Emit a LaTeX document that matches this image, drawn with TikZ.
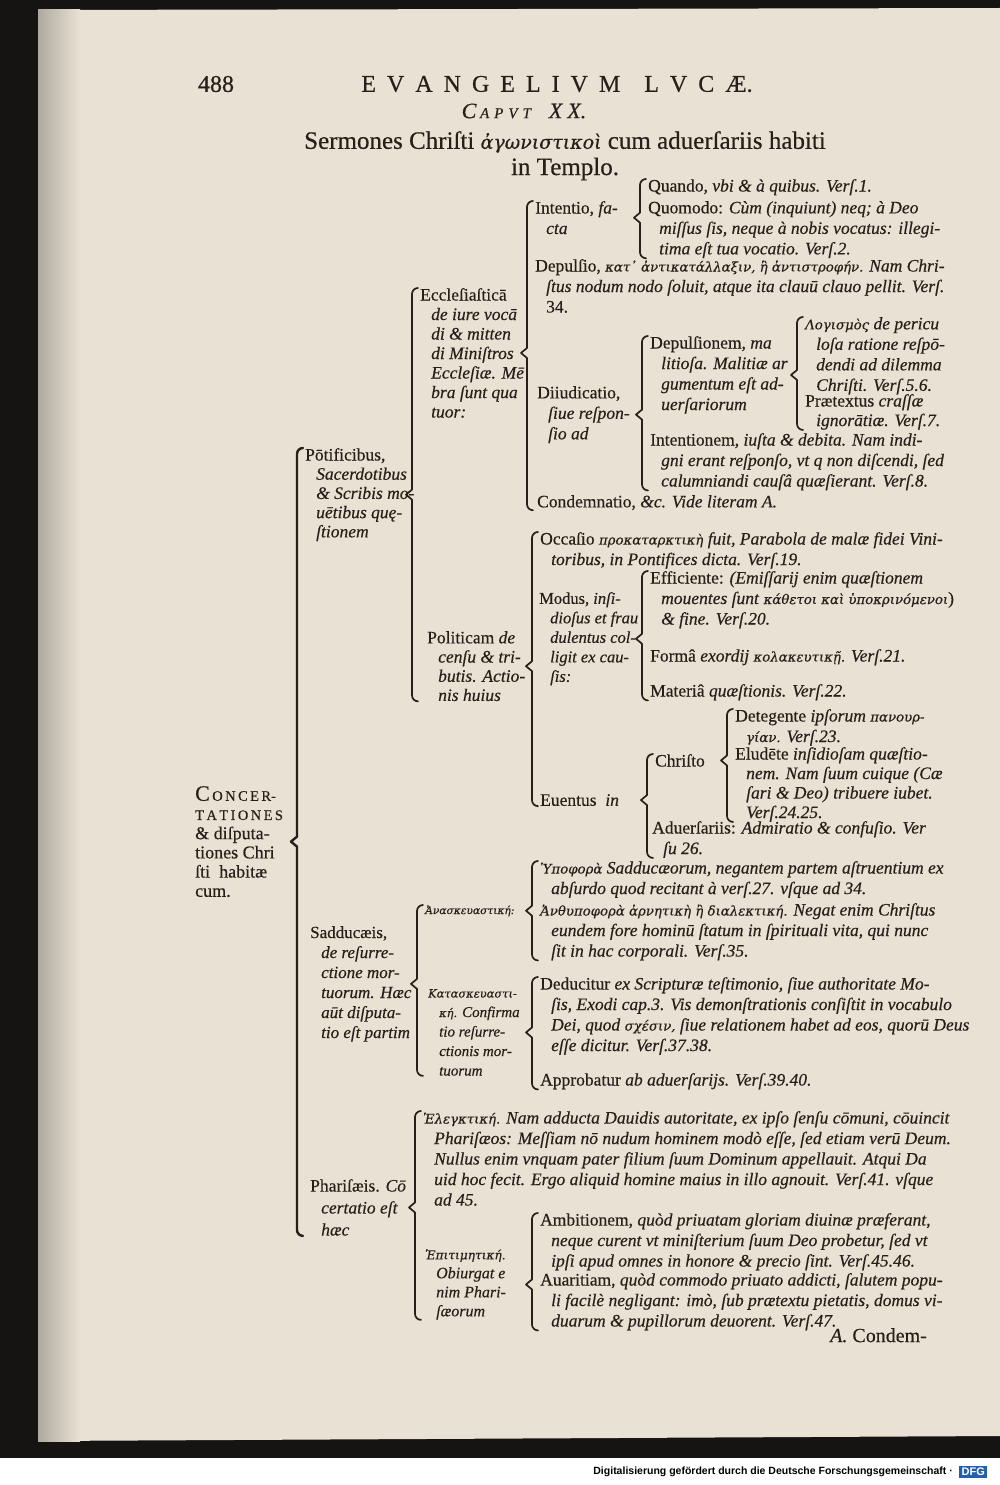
\documentclass[tikz,border=0pt]{standalone}
\usepackage{fontspec}
\setmainfont{Liberation Serif}[FakeBold=0.4]
\newfontfamily\greek[Scale=0.76,FakeBold=0.4]{DejaVu Serif}
\newfontfamily\footfont{Liberation Sans}
\usetikzlibrary{calc}
\definecolor{paper}{RGB}{233,226,212}
\definecolor{ink}{RGB}{40,31,26}
\definecolor{scanbed}{RGB}{22,20,19}
\definecolor{dfgblue}{RGB}{35,95,175}
\newcommand\fs{\fontsize{17.5}{20.5}\selectfont}
\newcommand\gr[1]{{\greek\itshape #1}}
\newcommand\ind{\hspace*{11pt}}
\newcommand\sm[1]{{\fontsize{14.5}{14.5}\selectfont #1}}
% brace from parent to its first and last child
\newcommand\drawbrace[4][]{%
  \draw[brk,#1] let \p1=(#3.north west), \p2=(#4.south west), \p3=(#2.east) in
    (\x1-2pt,\y1) to[out=180,in=90] (\x1-8pt,\y1-6pt)
    -- (\x1-8pt,\y3+5pt) -- (\x1-14pt,\y3) -- (\x1-8pt,\y3-5pt)
    -- (\x1-8pt,\y2+6pt) to[out=-90,in=180] (\x1-2pt,\y2);}
\tikzset{
  txt/.style={anchor=north west, align=left, inner sep=0pt, font=\fs, text=ink},
  head/.style={anchor=center, inner sep=0pt, text=ink},
  brk/.style={draw=ink, line width=1.7pt, line join=round, line cap=round}
}
\begin{document}
\begin{tikzpicture}[x=1pt, y=-1pt]
  \useasboundingbox (0,0) rectangle (1000,1485);
  % scan background
  \fill[white] (0,0) rectangle (1000,1485);
  \fill[scanbed] (0,0) rectangle (1000,1458);
  \fill[paper] (38,10) -- (1000,8) -- (1000,1436) -- (38,1441) -- cycle;
  \shade[left color=paper!75!black, right color=paper] (38,10) rectangle (80,1441);

  % heading
  \node[head, font=\fontsize{24}{24}\selectfont] (page) at (216,84) {488};
  \node[head, font=\fontsize{24}{24}\selectfont] (title) at (557,84)
    {E\hspace{11pt}V\hspace{11pt}A\hspace{11pt}N\hspace{11pt}G\hspace{11pt}E\hspace{11pt}L\hspace{11pt}I\hspace{11pt}V\hspace{11pt}M\hspace{24pt}L\hspace{11pt}V\hspace{11pt}C\hspace{11pt}Æ.};
  \node[head, font=\fontsize{22}{22}\selectfont\itshape] (caput) at (524,111)
    {C\,{\fontsize{15}{15}\selectfont A\hspace{5pt}P\hspace{5pt}V\hspace{5pt}T}\hspace{18pt}X\hspace{5pt}X.};
  \node[head, font=\fontsize{25}{25}\selectfont] (sermo) at (565,142)
    {Sermones Chriſti \gr{ἀγωνιστικοὶ} cum aduerſariis habiti};
  \node[head, font=\fontsize{25}{25}\selectfont] (templo) at (565,169) {in Templo.};

  % tree
  \node[txt, font=\fontsize{18}{19.2}\selectfont] (root) at (195,786)
    {{\fontsize{22}{19.2}\selectfont C}\sm{\,O\,N\,C\,E\,R-}\\\sm{T\,A\,T\,I\,O\,N\,E\,S}\\\& diſputa-\\tiones Chri\\ſti \ habitæ\\cum.};

  \node[txt, font=\fontsize{17.5}{19.2}\selectfont] (pontif) at (305,448)
    {Pōtificibus,\\\ind\textit{Sacerdotibus}\\\ind\textit{\& Scribis mo-}\\\ind\textit{uētibus quę-}\\\ind\textit{ſtionem}};
  \node[txt, font=\fontsize{17.5}{19.5}\selectfont] (eccl) at (420,288)
    {Eccleſiaſticā\\\ind\textit{de iure vocā}\\\ind\textit{di \& mitten}\\\ind\textit{di Miniſtros}\\\ind\textit{Eccleſiæ. Mē}\\\ind\textit{bra ſunt qua}\\\ind\textit{tuor:}};
  \node[txt] (intentio) at (535,201) {Intentio, \textit{fa-}\\\ind\textit{cta}};
  \node[txt] (quando) at (648,179) {Quando, \textit{vbi \& à quibus. Verſ.1.}};
  \node[txt] (quomodo) at (648,201)
    {Quomodo: \textit{Cùm (inquiunt) neq; à Deo}\\\ind\textit{miſſus ſis, neque à nobis vocatus: illegi-}\\\ind\textit{tima eſt tua vocatio. Verſ.2.}};
  \node[txt] (depulsio) at (535,259)
    {Depulſio, \gr{κατ᾽ ἀντικατάλλαξιν, ἢ ἀντιστροφήν.} \textit{Nam Chri-}\\\ind\textit{ſtus nodum nodo ſoluit, atque ita clauū clauo pellit. Verſ.}\\\ind 34.};
  \node[txt] (diiud) at (537,386) {Diiudicatio,\\\ind\textit{ſiue reſpon-}\\\ind\textit{ſio ad}};
  \node[txt] (depnem) at (650,336)
    {Depulſionem, \textit{ma}\\\ind\textit{litioſa. Malitiæ ar}\\\ind\textit{gumentum eſt ad-}\\\ind\textit{uerſariorum}};
  \node[txt] (logis) at (805,317)
    {\gr{Λογισμὸς} \textit{de pericu}\\\ind\textit{loſa ratione reſpō-}\\\ind\textit{dendi ad dilemma}\\\ind\textit{Chriſti. Verſ.5.6.}};
  \node[txt, font=\fontsize{17.5}{19.5}\selectfont] (praetext) at (805,394) {Prætextus \textit{craſſæ}\\\ind\textit{ignorātiæ. Verſ.7.}};
  \node[txt] (intentnem) at (650,433)
    {Intentionem, \textit{iuſta \& debita. Nam indi-}\\\ind\textit{gni erant reſponſo, vt q non diſcendi, ſed}\\\ind\textit{calumniandi cauſâ quæſierant. Verſ.8.}};
  \node[txt] (condem) at (537,495) {Condemnatio, \textit{\&c. Vide literam A.}};

  \node[txt, font=\fontsize{17.5}{19.2}\selectfont] (politic) at (427,631)
    {Politicam \textit{de}\\\ind\textit{cenſu \& tri-}\\\ind\textit{butis. Actio-}\\\ind\textit{nis huius}};
  \node[txt] (occasio) at (540,532)
    {Occaſio \gr{προκαταρκτικὴ} \textit{fuit, Parabola de malæ fidei Vini-}\\\ind\textit{toribus, in Pontifices dicta. Verſ.19.}};
  \node[txt, font=\fontsize{16.5}{19.5}\selectfont] (modus) at (539,592)
    {Modus, \textit{inſi-}\\\ind\textit{dioſus et frau}\\\ind\textit{dulentus col-}\\\ind\textit{ligit ex cau-}\\\ind\textit{ſis:}};
  \node[txt] (effic) at (650,571)
    {Efficiente: \textit{(Emiſſarij enim quæſtionem}\\\ind\textit{mouentes ſunt} \gr{κάθετοι καὶ ὑποκρινόμενοι})\\\ind\textit{\& fine. Verſ.20.}};
  \node[txt] (forma) at (650,649) {Formâ \textit{exordij} \gr{κολακευτικῇ.} \textit{Verſ.21.}};
  \node[txt] (materia) at (650,684) {Materiâ \textit{quæſtionis. Verſ.22.}};
  \node[txt] (euentus) at (540,794) {Euentus \ \textit{in}};
  \node[txt] (christo) at (655,754) {Chriſto};
  \node[txt] (deteg) at (735,709) {Detegente \textit{ipſorum} \gr{πανουρ-}\\\ind\gr{γίαν.} \textit{Verſ.23.}};
  \node[txt, font=\fontsize{17.5}{19.5}\selectfont] (elud) at (735,747)
    {Eludēte \textit{inſidioſam quæſtio-}\\\ind\textit{nem. Nam ſuum cuique (Cæ}\\\ind\textit{ſari \& Deo) tribuere iubet.}\\\ind\textit{Verſ.24.25.}};
  \node[txt] (aduers) at (652,821) {Aduerſariis: \textit{Admiratio \& confuſio. Ver}\\\ind\textit{ſu 26.}};

  \node[txt, font=\fontsize{17}{20}\selectfont] (sadd) at (310,926)
    {Sadducæis,\\\ind\textit{de reſurre-}\\\ind\textit{ctione mor-}\\\ind\textit{tuorum. Hæc}\\\ind\textit{aūt diſputa-}\\\ind\textit{tio eſt partim}};
  \node[txt, font=\fontsize{14}{16}\selectfont] (anaskeu) at (425,905) {\gr{Ἀνασκευαστική:}};
  \node[txt] (hypoph) at (540,861)
    {\gr{Ὑποφορὰ} \textit{Sadducæorum, negantem partem aſtruentium ex}\\\ind\textit{abſurdo quod recitant à verſ.27. vſque ad 34.}};
  \node[txt] (anthyp) at (540,903)
    {\gr{Ἀνθυποφορὰ ἀρνητικὴ ἢ διαλεκτική.} \textit{Negat enim Chriſtus}\\\ind\textit{eundem fore hominū ſtatum in ſpirituali vita, qui nunc}\\\ind\textit{ſit in hac corporali. Verſ.35.}};
  \node[txt, font=\fontsize{15}{19.5}\selectfont] (katask) at (428,989)
    {\gr{Κατασκευαστι-}\\\ind\gr{κή.} \textit{Confirma}\\\ind\textit{tio reſurre-}\\\ind\textit{ctionis mor-}\\\ind\textit{tuorum}};
  \node[txt] (deduc) at (540,977)
    {Deducitur \textit{ex Scripturæ teſtimonio, ſiue authoritate Mo-}\\\ind\textit{ſis, Exodi cap.3. Vis demonſtrationis conſiſtit in vocabulo}\\\ind\textit{Dei, quod} \gr{σχέσιν,} \textit{ſiue relationem habet ad eos, quorū Deus}\\\ind\textit{eſſe dicitur. Verſ.37.38.}};
  \node[txt] (approb) at (540,1073) {Approbatur \textit{ab aduerſarijs. Verſ.39.40.}};

  \node[txt, font=\fontsize{17.5}{22}\selectfont] (phar) at (310,1179)
    {Phariſæis. \textit{Cō}\\\ind\textit{certatio eſt}\\\ind\textit{hæc}};
  \node[txt] (elenk) at (423,1111)
    {\gr{Ἐλεγκτική.} \textit{Nam adducta Dauidis autoritate, ex ipſo ſenſu cōmuni, cōuincit}\\\ind\textit{Phariſæos: Meſſiam nō nudum hominem modò eſſe, ſed etiam verū Deum.}\\\ind\textit{Nullus enim vnquam pater filium ſuum Dominum appellauit. Atqui Da}\\\ind\textit{uid hoc fecit. Ergo aliquid homine maius in illo agnouit. Verſ.41. vſque}\\\ind\textit{ad 45.}};
  \node[txt, font=\fontsize{16}{19}\selectfont] (epitim) at (425,1249)
    {\gr{Ἐπιτιμητική.}\\\ind\textit{Obiurgat e}\\\ind\textit{nim Phari-}\\\ind\textit{ſæorum}};
  \node[txt] (ambit) at (540,1213)
    {Ambitionem, \textit{quòd priuatam gloriam diuinæ præferant,}\\\ind\textit{neque curent vt miniſterium ſuum Deo probetur, ſed vt}\\\ind\textit{ipſi apud omnes in honore \& precio ſint. Verſ.45.46.}};
  \node[txt] (auarit) at (540,1273)
    {Auaritiam, \textit{quòd commodo priuato addicti, ſalutem popu-}\\\ind\textit{li facilè negligant: imò, ſub prætextu pietatis, domus vi-}\\\ind\textit{duarum \& pupillorum deuorent. Verſ.47.}};
  \node[txt, font=\fontsize{20}{22}\selectfont] (catch) at (830,1328) {\textit{A.} Condem-};

  % braces
  \drawbrace[line width=2.4pt]{root}{pontif}{phar}
  \drawbrace{pontif}{eccl}{politic}
  \drawbrace{eccl}{intentio}{condem}
  \drawbrace{intentio}{quando}{quomodo}
  \drawbrace{diiud}{depnem}{intentnem}
  \drawbrace{depnem}{logis}{praetext}
  \drawbrace{politic}{occasio}{euentus}
  \drawbrace{modus}{effic}{materia}
  \drawbrace{euentus}{christo}{aduers}
  \drawbrace{christo}{deteg}{elud}
  \drawbrace{sadd}{anaskeu}{katask}
  \drawbrace{anaskeu}{hypoph}{anthyp}
  \drawbrace{katask}{deduc}{approb}
  \drawbrace{phar}{elenk}{epitim}
  \drawbrace{epitim}{ambit}{auarit}

  % footer
  \node[anchor=east, inner sep=0pt, font=\footfont\bfseries\fontsize{10.5}{12}\selectfont] (foot) at (953,1472)
    {Digitalisierung gefördert durch die Deutsche Forschungsgemeinschaft ·};
  \node[anchor=west, fill=dfgblue, text=white, inner sep=2.5pt, font=\footfont\bfseries\fontsize{11}{12}\selectfont] (dfg) at (959,1472) {DFG};
\end{tikzpicture}
\end{document}
